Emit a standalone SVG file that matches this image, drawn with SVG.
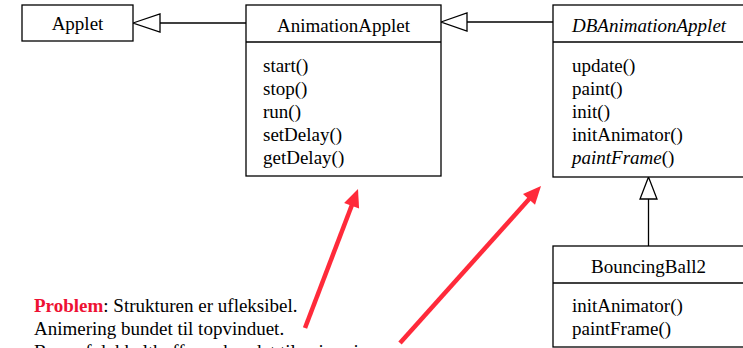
<svg xmlns="http://www.w3.org/2000/svg" width="743" height="348" viewBox="0 0 743 348">
<style>
.box{fill:#fff;stroke:#000;stroke-width:1.3}
.div{stroke:#000;stroke-width:1.3}
text{font-family:"Liberation Serif","Times New Roman",serif;font-size:19px;fill:#000}
.c{text-anchor:middle}
.it{font-style:italic}
.conn{stroke:#000;stroke-width:1.3;fill:none}
.tri{fill:#fff;stroke:#000;stroke-width:1.3}
.red{stroke:#ff2a3a;stroke-width:4.5;fill:none}
.redh{fill:#ff2a3a}
</style>
<rect width="743" height="348" fill="#fff"/>
<g id="connectors">
  <line class="conn" x1="160" y1="23" x2="246" y2="23"/>
  <polygon class="tri" points="133,23 160,14 160,32"/>
  <line class="conn" x1="467" y1="22" x2="553" y2="22"/>
  <polygon class="tri" points="441,22 467,13 467,31"/>
  <line class="conn" x1="648.5" y1="199" x2="648.5" y2="246"/>
  <polygon class="tri" points="648.5,177 640,199 657,199"/>
</g>
<g id="Applet">
  <rect class="box" x="22" y="5" width="111" height="36"/>
  <text class="c" x="77.5" y="30">Applet</text>
</g>
<g id="AnimationApplet">
  <rect class="box" x="246" y="5" width="195" height="171"/>
  <line class="div" x1="246" y1="42" x2="441" y2="42"/>
  <text class="c" x="343.5" y="32">AnimationApplet</text>
  <text x="263" y="72">start()</text>
  <text x="263" y="95">stop()</text>
  <text x="263" y="118">run()</text>
  <text x="263" y="141">setDelay()</text>
  <text x="263" y="164">getDelay()</text>
</g>
<g id="DBAnimationApplet">
  <rect class="box" x="553" y="5" width="192" height="172"/>
  <line class="div" x1="553" y1="42" x2="745" y2="42"/>
  <text class="it" x="572" y="32">DBAnimationApplet</text>
  <text x="572" y="72">update()</text>
  <text x="572" y="95">paint()</text>
  <text x="572" y="118">init()</text>
  <text x="572" y="141">initAnimator()</text>
  <text x="572" y="164"><tspan class="it">paintFrame</tspan>()</text>
</g>
<g id="BouncingBall2">
  <rect class="box" x="553" y="246" width="192" height="101"/>
  <line class="div" x1="553" y1="283" x2="745" y2="283"/>
  <text class="c" x="648.5" y="273">BouncingBall2</text>
  <text x="572" y="312">initAnimator()</text>
  <text x="572" y="335">paintFrame()</text>
</g>
<g id="note">
  <text x="34" y="312"><tspan fill="#ee1133" font-weight="bold">Problem</tspan>: Strukturen er ufleksibel.</text>
  <text x="34" y="335">Animering bundet til topvinduet.</text>
  <text x="34" y="358">Brug af dobbeltbuffer er bundet til animering.</text>
</g>
<g id="red-arrows">
  <line class="red" x1="305" y1="328" x2="352.5" y2="203.5"/>
  <polygon class="redh" points="358,189 359.1,208.6 344.1,203"/>
  <line class="red" x1="400" y1="343" x2="530.5" y2="197.5"/>
  <polygon class="redh" points="541,186 535,204.7 523,194.1"/>
</g>
</svg>
